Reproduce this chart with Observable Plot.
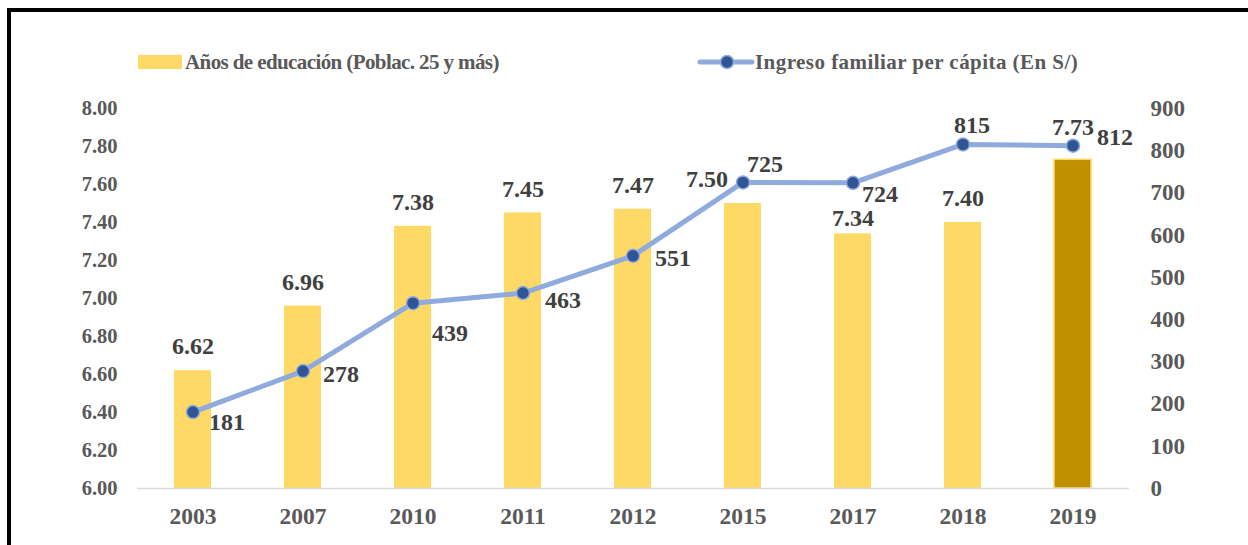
<!DOCTYPE html>
<html>
<head>
<meta charset="utf-8">
<script src="https://cdn.jsdelivr.net/npm/d3@7"></script>
<script src="https://cdn.jsdelivr.net/npm/@observablehq/plot@0.6"></script>
<style>
  html, body { margin: 0; padding: 0; background: #fff; width: 1248px; height: 545px; overflow: hidden; }
  #frame { position: absolute; left: 7px; top: 8px; width: 1300px; height: 700px;
           border-top: 4px solid #000; border-left: 4px solid #000; box-sizing: border-box; }
  #chart { position: absolute; left: 0; top: 80px; }
  .leg { position: absolute; font-family: "Liberation Serif", "Times New Roman", serif; font-weight: bold;
         font-size: 21px; color: #595959; line-height: 1; white-space: nowrap; }
</style>
</head>
<body>
<div id="frame"></div>
<div id="legend"></div>
<div id="chart"></div>
<script>
const years = ["2003", "2007", "2010", "2011", "2012", "2015", "2017", "2018", "2019"];
const educacion = [6.62, 6.96, 7.38, 7.45, 7.47, 7.50, 7.34, 7.40, 7.73];
const ingreso = [181, 278, 439, 463, 551, 725, 724, 815, 812];
const leftTicks = [6.0, 6.2, 6.4, 6.6, 6.8, 7.0, 7.2, 7.4, 7.6, 7.8, 8.0];
const rightTicks = [0, 100, 200, 300, 400, 500, 600, 700, 800, 900];
const seriesNames = ["Años de educación (Poblac. 25 y más)", "Ingreso familiar per cápita (En S/)"];

const yMin = 6, yMax = 8, rMax = 900;
const toLeft = v => yMin + v / rMax * (yMax - yMin);

const data = years.map((y, i) => ({year: y, edu: educacion[i], inc: ingreso[i], incY: toLeft(ingreso[i])}));

// label placement (pixel offsets), as in the original layout
const eduOff = {"2015": [-36, -24], "2017": [0, -16], "2019": [0, -32]};
const incOff = {
  "2003": [16, 10, "start"], "2007": [20, 3, "start"], "2010": [19, 30, "start"],
  "2011": [22, 7, "start"], "2012": [22, 2, "start"], "2015": [22, -18, "middle"],
  "2017": [9, 12, "start"], "2018": [9, -19, "middle"], "2019": [24, -8, "start"]
};

const serif = "Liberation Serif, Times New Roman, serif";
const yellow = "#FFD966", gold = "#BF9000", lineC = "#8FAADC", dotC = "#2F5597";
const labelC = "#404040", axisC = "#595959";

const marks = [
  Plot.barY(data, {x: "year", y1: () => yMin, y2: "edu",
    fill: d => d.year === "2019" ? gold : yellow,
    stroke: d => d.year === "2019" ? yellow : "none", strokeWidth: 1.5}),
  Plot.ruleY([yMin], {stroke: "#D9D9D9", strokeWidth: 1.5}),
  Plot.line(data, {x: "year", y: "incY", stroke: lineC, strokeWidth: 5}),
  Plot.dot(data, {x: "year", y: "incY", r: 6.5, fill: dotC, stroke: lineC, strokeWidth: 1.5}),
  ...years.map(yr => Plot.text(data.filter(d => d.year === yr), {
    x: "year", y: "edu", text: d => d.edu.toFixed(2),
    dx: (eduOff[yr] || [0, -24])[0], dy: (eduOff[yr] || [0, -24])[1],
    fontSize: 24, fontWeight: "bold", fill: labelC, fontFamily: serif, lineAnchor: "middle"})),
  ...years.map(yr => Plot.text(data.filter(d => d.year === yr), {
    x: "year", y: "incY", text: d => String(d.inc),
    dx: incOff[yr][0], dy: incOff[yr][1], textAnchor: incOff[yr][2],
    fontSize: 24, fontWeight: "bold", fill: labelC, fontFamily: serif, lineAnchor: "middle"})),
  Plot.axisY(leftTicks, {anchor: "left", tickSize: 0, tickPadding: 20, tickFormat: d3.format(".2f"),
    fontSize: 20.5, fontWeight: "bold", fill: axisC, fontFamily: serif}),
  Plot.axisY(rightTicks.map(toLeft), {anchor: "right", tickSize: 0, tickPadding: 21,
    tickFormat: d => String(Math.round((d - yMin) / (yMax - yMin) * rMax)),
    fontSize: 23, fontWeight: "bold", fill: axisC, fontFamily: serif}),
  Plot.axisX({anchor: "bottom", tickSize: 0, tickPadding: 19,
    fontSize: 23.5, fontWeight: "bold", fill: axisC, fontFamily: serif})
];

const chart = Plot.plot({
  width: 1248, height: 465,
  marginLeft: 137, marginRight: 119, marginTop: 28, marginBottom: 57,
  style: {background: "transparent", overflow: "visible"},
  x: {domain: years, type: "band", paddingInner: 0.66, paddingOuter: 0.33, label: null, axis: null},
  y: {domain: [yMin, yMax], label: null, axis: null},
  marks
});
document.getElementById("chart").appendChild(chart);

// legend
const legend = document.getElementById("legend");
legend.innerHTML = `
  <div style="position:absolute;left:138px;top:55px;width:44px;height:14px;background:${yellow}"></div>
  <div class="leg" style="left:185px;top:52px;letter-spacing:-0.6px">${seriesNames[0]}</div>
  <svg style="position:absolute;left:696px;top:50px" width="60" height="24">
    <line x1="4" y1="12" x2="56" y2="12" stroke="${lineC}" stroke-width="5" stroke-linecap="round"/>
    <circle cx="31" cy="12" r="6.5" fill="${dotC}" stroke="${lineC}" stroke-width="1.5"/>
  </svg>
  <div class="leg" style="left:755px;top:52px;letter-spacing:0.45px">${seriesNames[1]}</div>`;
</script>
</body>
</html>
